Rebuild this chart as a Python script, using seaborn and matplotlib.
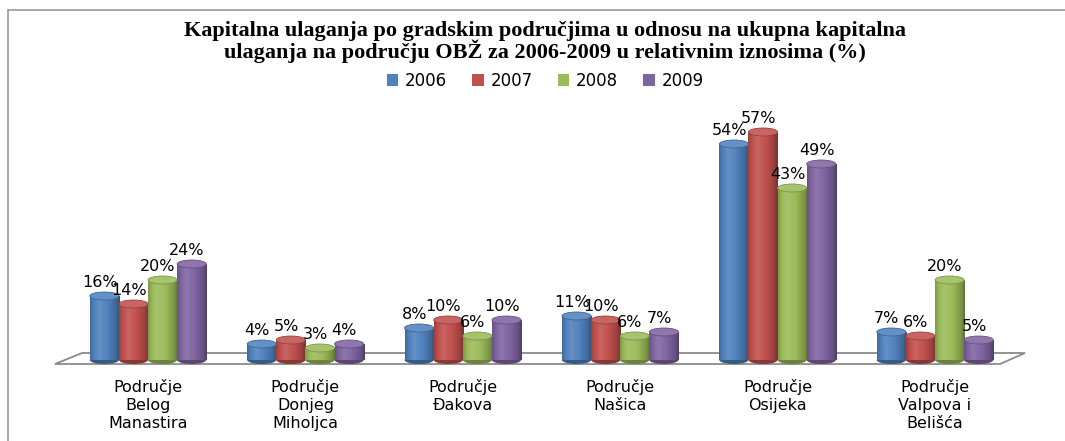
import numpy as np
import pandas as pd
import matplotlib
matplotlib.use("Agg")
import matplotlib.pyplot as plt
import matplotlib.colors as mcolors
from matplotlib.patches import Ellipse, Polygon, Patch
import seaborn as sns

# ---------------- data ----------------
categories = ["Područje\nBelog\nManastira", "Područje\nDonjeg\nMiholjca", "Područje\nĐakova",
              "Područje\nNašica", "Područje\nOsijeka", "Područje\nValpova i\nBelišća"]
years = ["2006", "2007", "2008", "2009"]
v2006 = [16, 4, 8, 11, 54, 7]
v2007 = [14, 5, 10, 10, 57, 6]
v2008 = [20, 3, 6, 6, 43, 20]
v2009 = [24, 4, 10, 7, 49, 5]
colors = ["#4F81BD", "#C0504D", "#9BBB59", "#8064A2"]
title = ("Kapitalna ulaganja po gradskim područjima u odnosu na ukupna kapitalna\n"
         "ulaganja na području OBŽ za 2006-2009 u relativnim iznosima (%)")

series = [v2006, v2007, v2008, v2009]
df = pd.DataFrame({
    "category": categories * len(years),
    "year": [y for y in years for _ in categories],
    "value": [v for s in series for v in s],
})

sns.set_theme(style="white")
plt.rcParams["font.family"] = ["DejaVu Sans"]
plt.rcParams["text.color"] = "black"
plt.rcParams["xtick.color"] = "black"

W, H = 1065, 441
fig = plt.figure(figsize=(W / 100, H / 100), dpi=100)
fig.patch.set_facecolor("white")
ax = fig.add_axes([55 / W, 81 / H, 945 / W, 240 / H])

sns.barplot(data=df, x="category", y="value", hue="year", hue_order=years,
            order=categories, palette=colors, width=0.74, legend=False,
            saturation=1, ax=ax, zorder=2, edgecolor="none")

def shade(c, f):
    r = np.array(mcolors.to_rgb(c))
    if f >= 1:
        return np.clip(r + (1 - r) * (f - 1), 0, 1)
    return np.clip(r * f, 0, 1)

cap_h = 2.0
xs = np.linspace(0, 1, 64)
fac = np.interp(xs, [0, 0.12, 0.3, 0.6, 0.88, 1.0], [0.82, 0.98, 1.12, 1.0, 0.8, 0.62])

for cont, col in zip(ax.containers, colors):
    grad = np.array([shade(col, f) for f in fac])[None, :, :]
    for bar in cont:
        x0, w, h = bar.get_x(), bar.get_width(), bar.get_height()
        ax.add_patch(Ellipse((x0 + w / 2, 0), w, cap_h, facecolor=shade(col, 0.7),
                             edgecolor="none", zorder=1.9, clip_on=False))
        ax.imshow(grad, extent=[x0, x0 + w, 0, h], aspect="auto", zorder=2.1,
                  interpolation="bilinear")
        ax.add_patch(Ellipse((x0 + w / 2, h), w, cap_h, facecolor=shade(col, 1.12),
                             edgecolor=shade(col, 0.8), lw=0.6, zorder=2.2, clip_on=False))
        ax.text(x0 + w / 2 - 0.03, h + 3.4, f"{h:.0f}%", ha="center", va="center",
                fontsize=11.5, color="black", zorder=5, clip_on=False)

ax.set_xlim(-0.591, 5.413)
ax.set_ylim(0, 60)

# floor
y_front = -4 / 240
y_back = 7 / 240
floor = Polygon([(0, y_front), (1, y_front), ((1025 - 55) / 945, y_back),
                 ((82 - 55) / 945, y_back)], closed=True, transform=ax.transAxes,
                facecolor="white", edgecolor="#8a8a8a", lw=1.3, zorder=0.5, clip_on=False)
ax.add_patch(floor)

for s in ax.spines.values():
    s.set_visible(False)
ax.set_yticks([])
ax.set_xlabel("")
ax.set_ylabel("")
ax.tick_params(axis="x", length=0, pad=14, labelsize=11.5, labelcolor="black")
for lab in ax.get_xticklabels():
    lab.set_linespacing(1.22)
ax.set_facecolor("none")

# frame of chart area
fig.add_artist(plt.Line2D([8 / W, 1.0], [1 - 10 / H, 1 - 10 / H], color="#9a9a9a", lw=1.2,
                          transform=fig.transFigure))
fig.add_artist(plt.Line2D([8 / W, 8 / W], [0, 1 - 10 / H], color="#9a9a9a", lw=1.2,
                          transform=fig.transFigure))

fig.text(545 / W, 1 - 42 / H, title, ha="center", va="center", fontsize=16,
         fontweight="bold", color="black", family=["Liberation Serif", "DejaVu Serif"],
         linespacing=0.92)

handles = [Patch(facecolor=c, edgecolor="none") for c in colors]
fig.legend(handles, years, loc="center", bbox_to_anchor=(545 / W, 1 - 81 / H), ncol=4,
           frameon=False, fontsize=12, handlelength=0.7, handleheight=0.7,
           handletextpad=0.4, columnspacing=1.5, labelcolor="black")

fig.savefig("out.png", dpi=100, facecolor="white")
